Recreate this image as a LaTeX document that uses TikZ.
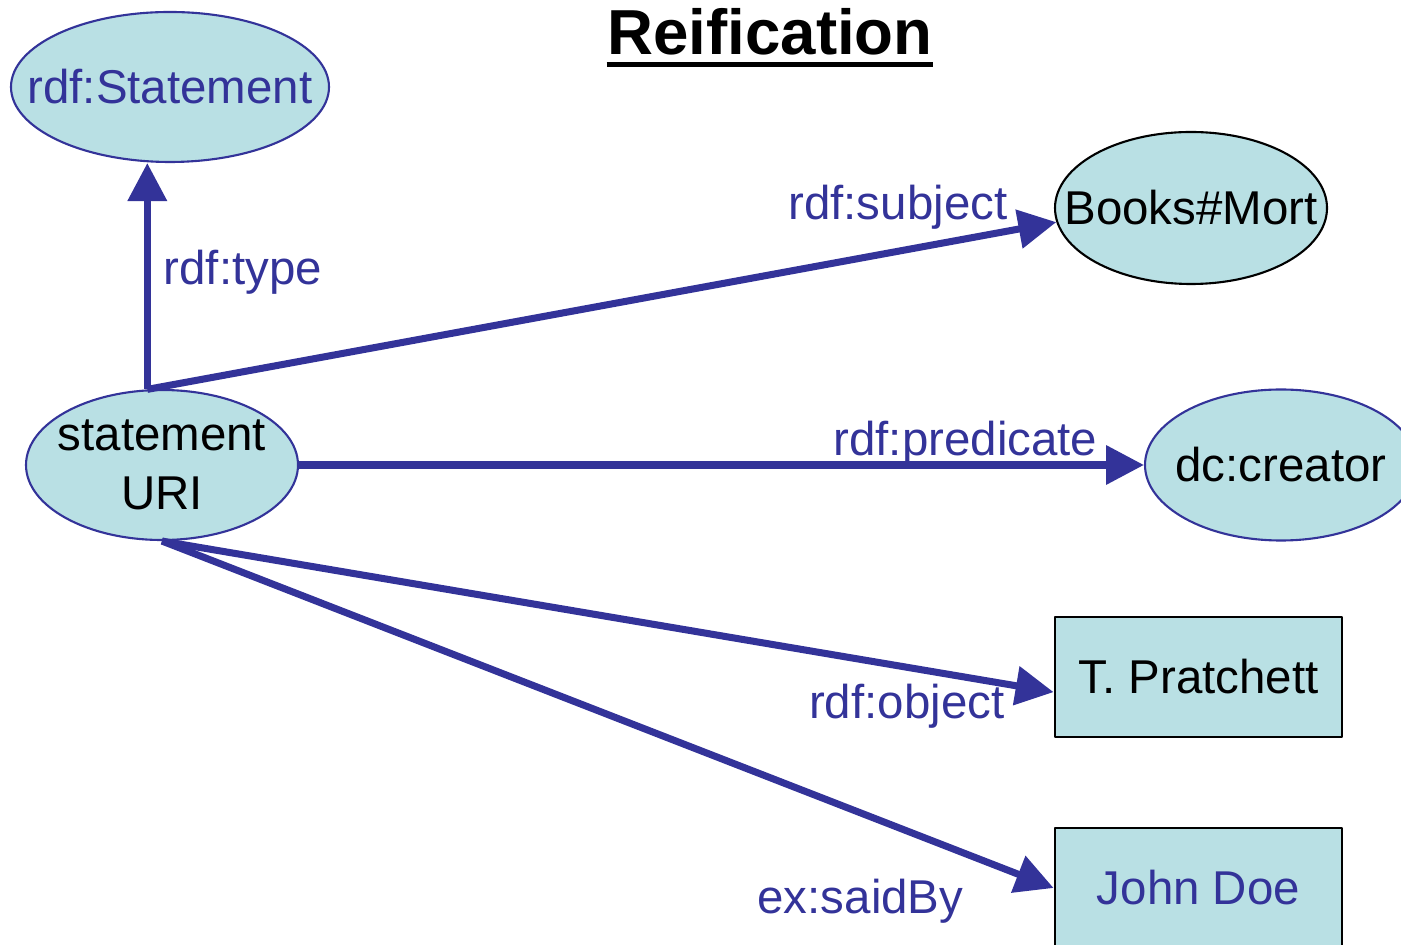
\documentclass[tikz,border=0pt]{standalone}
\usepackage{fontspec}
\setmainfont{Liberation Sans}
\usetikzlibrary{shapes.geometric,arrows.meta}
\definecolor{rdfblue}{HTML}{333399}
\definecolor{rdffill}{HTML}{B9E0E4}

\begin{document}
\begin{tikzpicture}[line join=round, >={Triangle[length=10.8pt,width=10.8pt]},
		font=\fontsize{13.5}{16.2}\selectfont,
		res/.style={ellipse, draw=rdfblue, fill=rdffill, line width=0.6pt, inner sep=-1cm, minimum width=2.72cm, minimum height=1.5cm},
		lit/.style={rectangle, draw=black, fill=rdffill, line width=0.8pt, inner sep=0pt, minimum width=2.87cm, minimum height=1.2cm},
		prop/.style={text=rdfblue, inner sep=0pt},
		arc/.style={->, draw=rdfblue, line width=2pt}]
			\useasboundingbox (0,0) rectangle (14.01,9.44);
			% title
			\node[inner sep=0pt, anchor=base, font=\fontsize{18.1}{20}\selectfont\bfseries] (title) at (7.70,8.89) {Reification};
			\draw[line width=1.4pt] ([yshift=-2.6pt]title.base west) -- ([yshift=-2.6pt]title.base east);
			% resources and literals
			\node[res, minimum width=3.18cm, text=rdfblue] (stmt) at (1.70,8.57) {rdf:Statement};
			\node[res, draw=black, minimum height=1.52cm] (mort) at (11.91,7.36) {Books\#Mort};
			\node[res, align=center] (suri) at (1.62,4.79) {statement\\[0.5pt]URI};
			\node[res, minimum height=1.51cm] (creator) at (12.81,4.79) {dc:creator};
			\node[lit] (prat) at (11.985,2.67) {T. Pratchett};
			\node[lit, text=rdfblue] (john) at (11.985,0.56) {John Doe};
			% properties
			\coordinate (top) at (suri.101);
			\draw[arc] (top) -- (top |- stmt.south);
			\draw[arc] (top) -- (mort.186);
			\draw[arc] (suri.east) -- (creator.west);
			\draw[arc] (suri.south) -- ([yshift=-4.3pt]prat.west);
			\draw[arc] (suri.south) -- (john.west);
			\node[prop, anchor=west] (ltype) at (1.63,6.72) {rdf:type};
			\node[prop, anchor=east] (lsubj) at (10.08,7.37) {rdf:subject};
			\node[prop, anchor=east] (lpred) at (10.98,5.01) {rdf:predicate};
			\node[prop, anchor=east] (lobj) at (10.05,2.38) {rdf:object};
			\node[prop, anchor=east] (lsaid) at (9.64,0.43) {ex:saidBy};
		\end{tikzpicture}
\end{document}
